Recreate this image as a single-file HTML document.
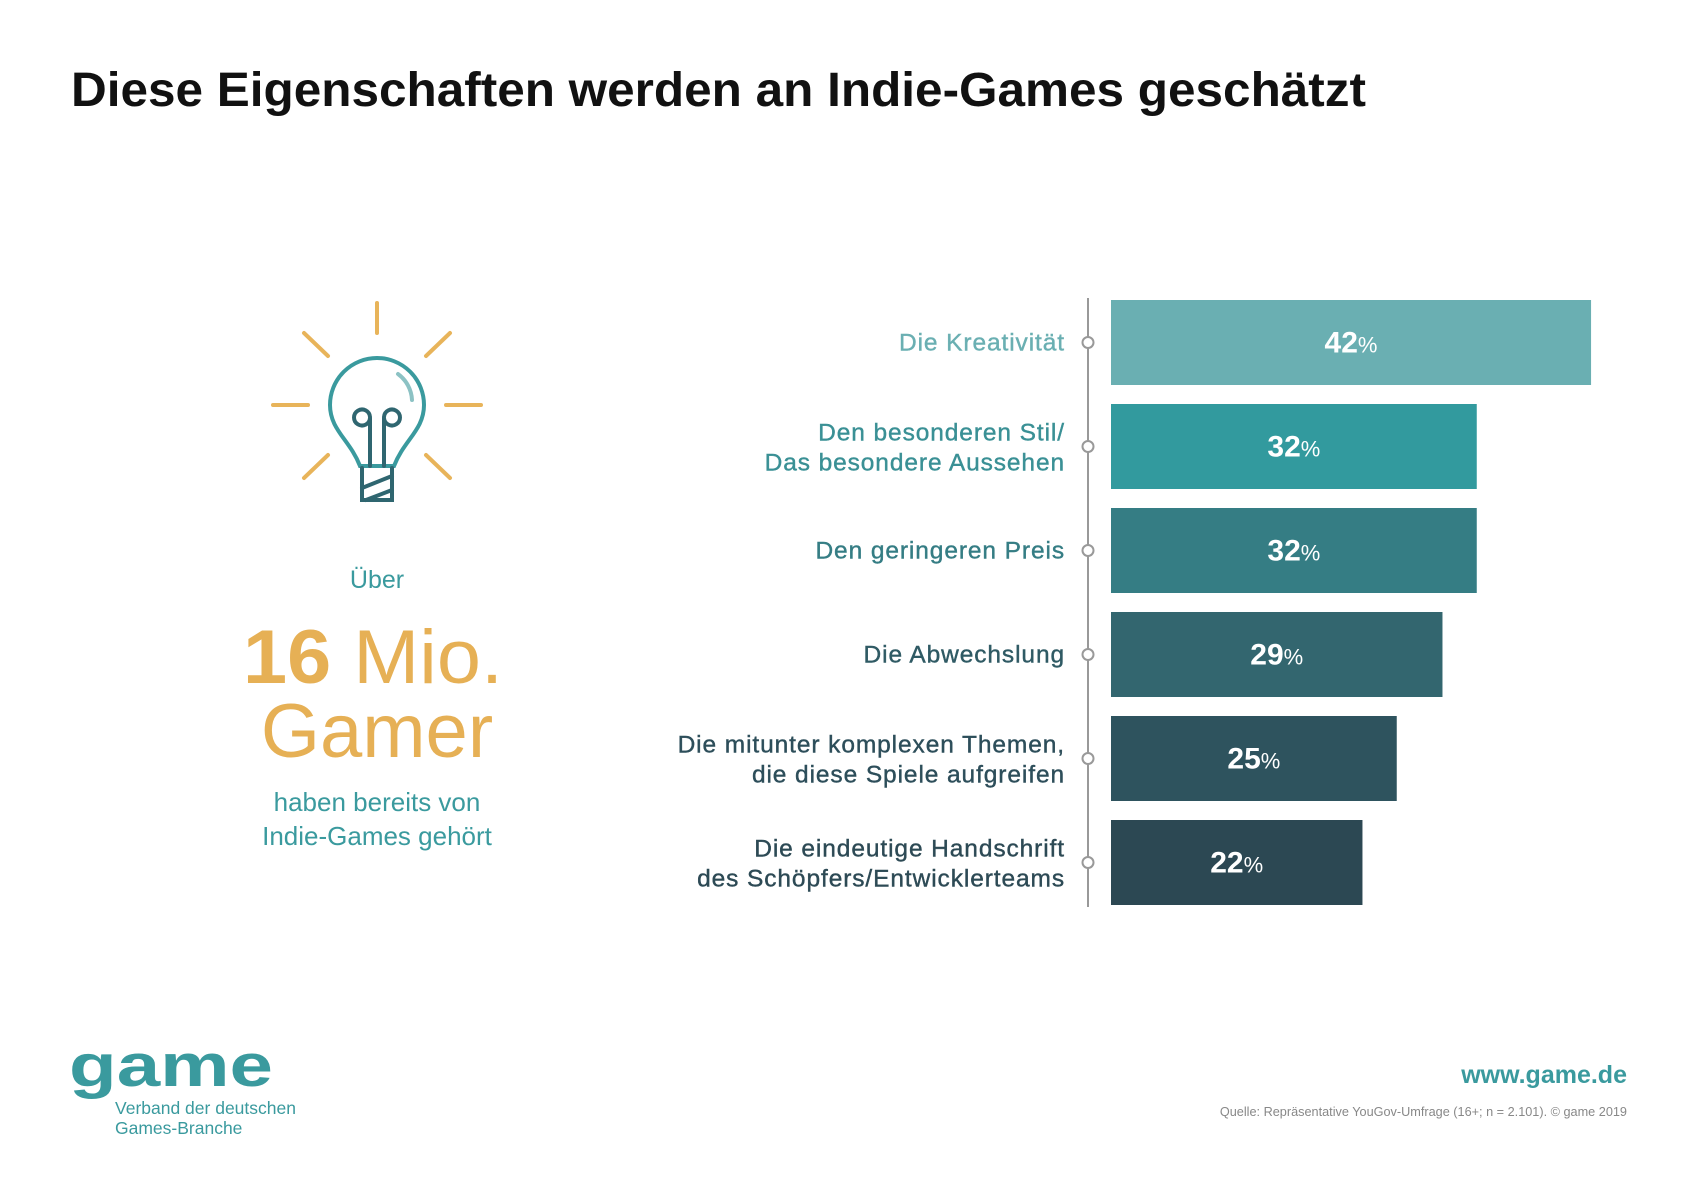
<!DOCTYPE html>
<html><head><meta charset="utf-8"><style>
html,body{margin:0;padding:0;background:#fff;}
svg{display:block;font-family:"Liberation Sans",sans-serif;}
</style></head><body>
<svg id="chart" width="1697" height="1200" viewBox="0 0 1697 1200">
<text x="71" y="106" font-size="48" font-weight="bold" fill="#111" textLength="1295" lengthAdjust="spacingAndGlyphs">Diese Eigenschaften werden an Indie-Games geschätzt</text>

<g fill="none" stroke-linecap="round">
 <g stroke="#e8b45a" stroke-width="4">
  <line x1="377" y1="303" x2="377" y2="333"/>
  <line x1="304" y1="333" x2="328" y2="356"/>
  <line x1="450" y1="333" x2="426" y2="356"/>
  <line x1="273" y1="405" x2="308" y2="405"/>
  <line x1="446" y1="405" x2="481" y2="405"/>
  <line x1="304" y1="478" x2="328" y2="455"/>
  <line x1="450" y1="478" x2="426" y2="455"/>
 </g>
 <path d="M360 466 C350 440 330 430 330 405 A47 47 0 1 1 424 405 C424 430 404 440 394 466 Z" stroke="#3a9a9e" stroke-width="4"/>
 <path d="M398 374 A34 34 0 0 1 412 400" stroke="#8cc2c4" stroke-width="4"/>
 <path d="M370 466 V418 M384 466 V418 M370 418 a8 8 0 1 1 0 -1 M384 418 a8 8 0 1 0 0 -1" stroke="#2f6670" stroke-width="4"/>
 <path d="M362 468 V500 H392 V468 M362 488 L392 476 M366 500 L392 490" stroke="#2f6670" stroke-width="4"/>
</g>

<g text-anchor="middle">
 <text x="377" y="588" font-size="25" fill="#3a9a9e">Über</text>
 <text x="373" y="683" font-size="76" fill="#e6b055" textLength="260" lengthAdjust="spacingAndGlyphs"><tspan font-weight="bold">16</tspan> Mio.</text>
 <text x="377" y="757" font-size="76" fill="#e6b055">Gamer</text>
 <text x="377" y="811" font-size="26" fill="#3a9a9e">haben bereits von</text>
 <text x="377" y="845" font-size="26" fill="#3a9a9e">Indie-Games gehört</text>
</g>

<g id="bars"></g>

<text x="69" y="1086" font-size="60" font-weight="bold" fill="#3a9a9e" textLength="204" lengthAdjust="spacingAndGlyphs">game</text>
<text x="115" y="1114" font-size="17.5" fill="#3a9a9e">Verband der deutschen</text>
<text x="115" y="1134" font-size="17.5" fill="#3a9a9e">Games-Branche</text>
<text x="1627" y="1083" font-size="25" font-weight="bold" fill="#3a9a9e" text-anchor="end">www.game.de</text>
<text x="1627" y="1116" font-size="12.7" fill="#888" text-anchor="end">Quelle: Repräsentative YouGov-Umfrage (16+; n = 2.101). © game 2019</text>
</svg>
<script>
const categories = [
  ["Die Kreativität"],
  ["Den besonderen Stil/", "Das besondere Aussehen"],
  ["Den geringeren Preis"],
  ["Die Abwechslung"],
  ["Die mitunter komplexen Themen,", "die diese Spiele aufgreifen"],
  ["Die eindeutige Handschrift", "des Schöpfers/Entwicklerteams"]
];
const values = [42, 32, 32, 29, 25, 22];
const barColors = ["#6aafb2", "#329a9e", "#357d84", "#33666f", "#2e535e", "#2c4853"];
const labelColors = ["#6aafb2", "#3a9095", "#357d84", "#2f5a64", "#2d4e5a", "#2d4a55"];

const NS = "http://www.w3.org/2000/svg";
const g = document.getElementById("bars");
const x0 = 1111, perPct = 11.43, top0 = 300, pitch = 104, bh = 85, axisX = 1088;
const xScale = v => v * perPct;
const yScale = i => top0 + i * pitch;

function mk(tag, attrs) {
  const e = document.createElementNS(NS, tag);
  for (const k in attrs) e.setAttribute(k, attrs[k]);
  return e;
}
const axis = mk("line", {x1: axisX, x2: axisX, y1: yScale(0) - 2, y2: yScale(values.length - 1) + bh + 2, stroke: "#999", "stroke-width": 2});


g.appendChild(axis);

values.forEach((v, i) => {
  const y = yScale(i), cy = y + bh / 2, w = xScale(v);
  const r = mk("rect", {x: x0, y: y, width: w, height: bh, fill: barColors[i]});
  
  
  g.appendChild(r);
  const t = mk("text", {x: x0 + w / 2, y: cy + 10, "text-anchor": "middle", fill: "#fff", "font-size": 30, "font-weight": "bold"});
  t.textContent = v;
  const ts = mk("tspan", {"font-size": 22, "font-weight": "normal"});
  ts.textContent = "%";
  t.appendChild(ts);
  
  
  g.appendChild(t);
  const c = mk("circle", {cx: axisX, cy: cy, r: 5.5, fill: "#fff", stroke: "#999", "stroke-width": 2});
  
  
  g.appendChild(c);
  const lines = categories[i];
  const offs = lines.length === 1 ? [8] : [-6, 24];
  lines.forEach((ln, j) => {
    const lt = mk("text", {x: 1065, y: cy + offs[j], "text-anchor": "end", fill: labelColors[i], "font-size": 24.5, "letter-spacing": 0.9, stroke: labelColors[i], "stroke-width": 0.4});
    lt.textContent = ln;
    
    
    g.appendChild(lt);
  });
});
</script>
</body></html>
